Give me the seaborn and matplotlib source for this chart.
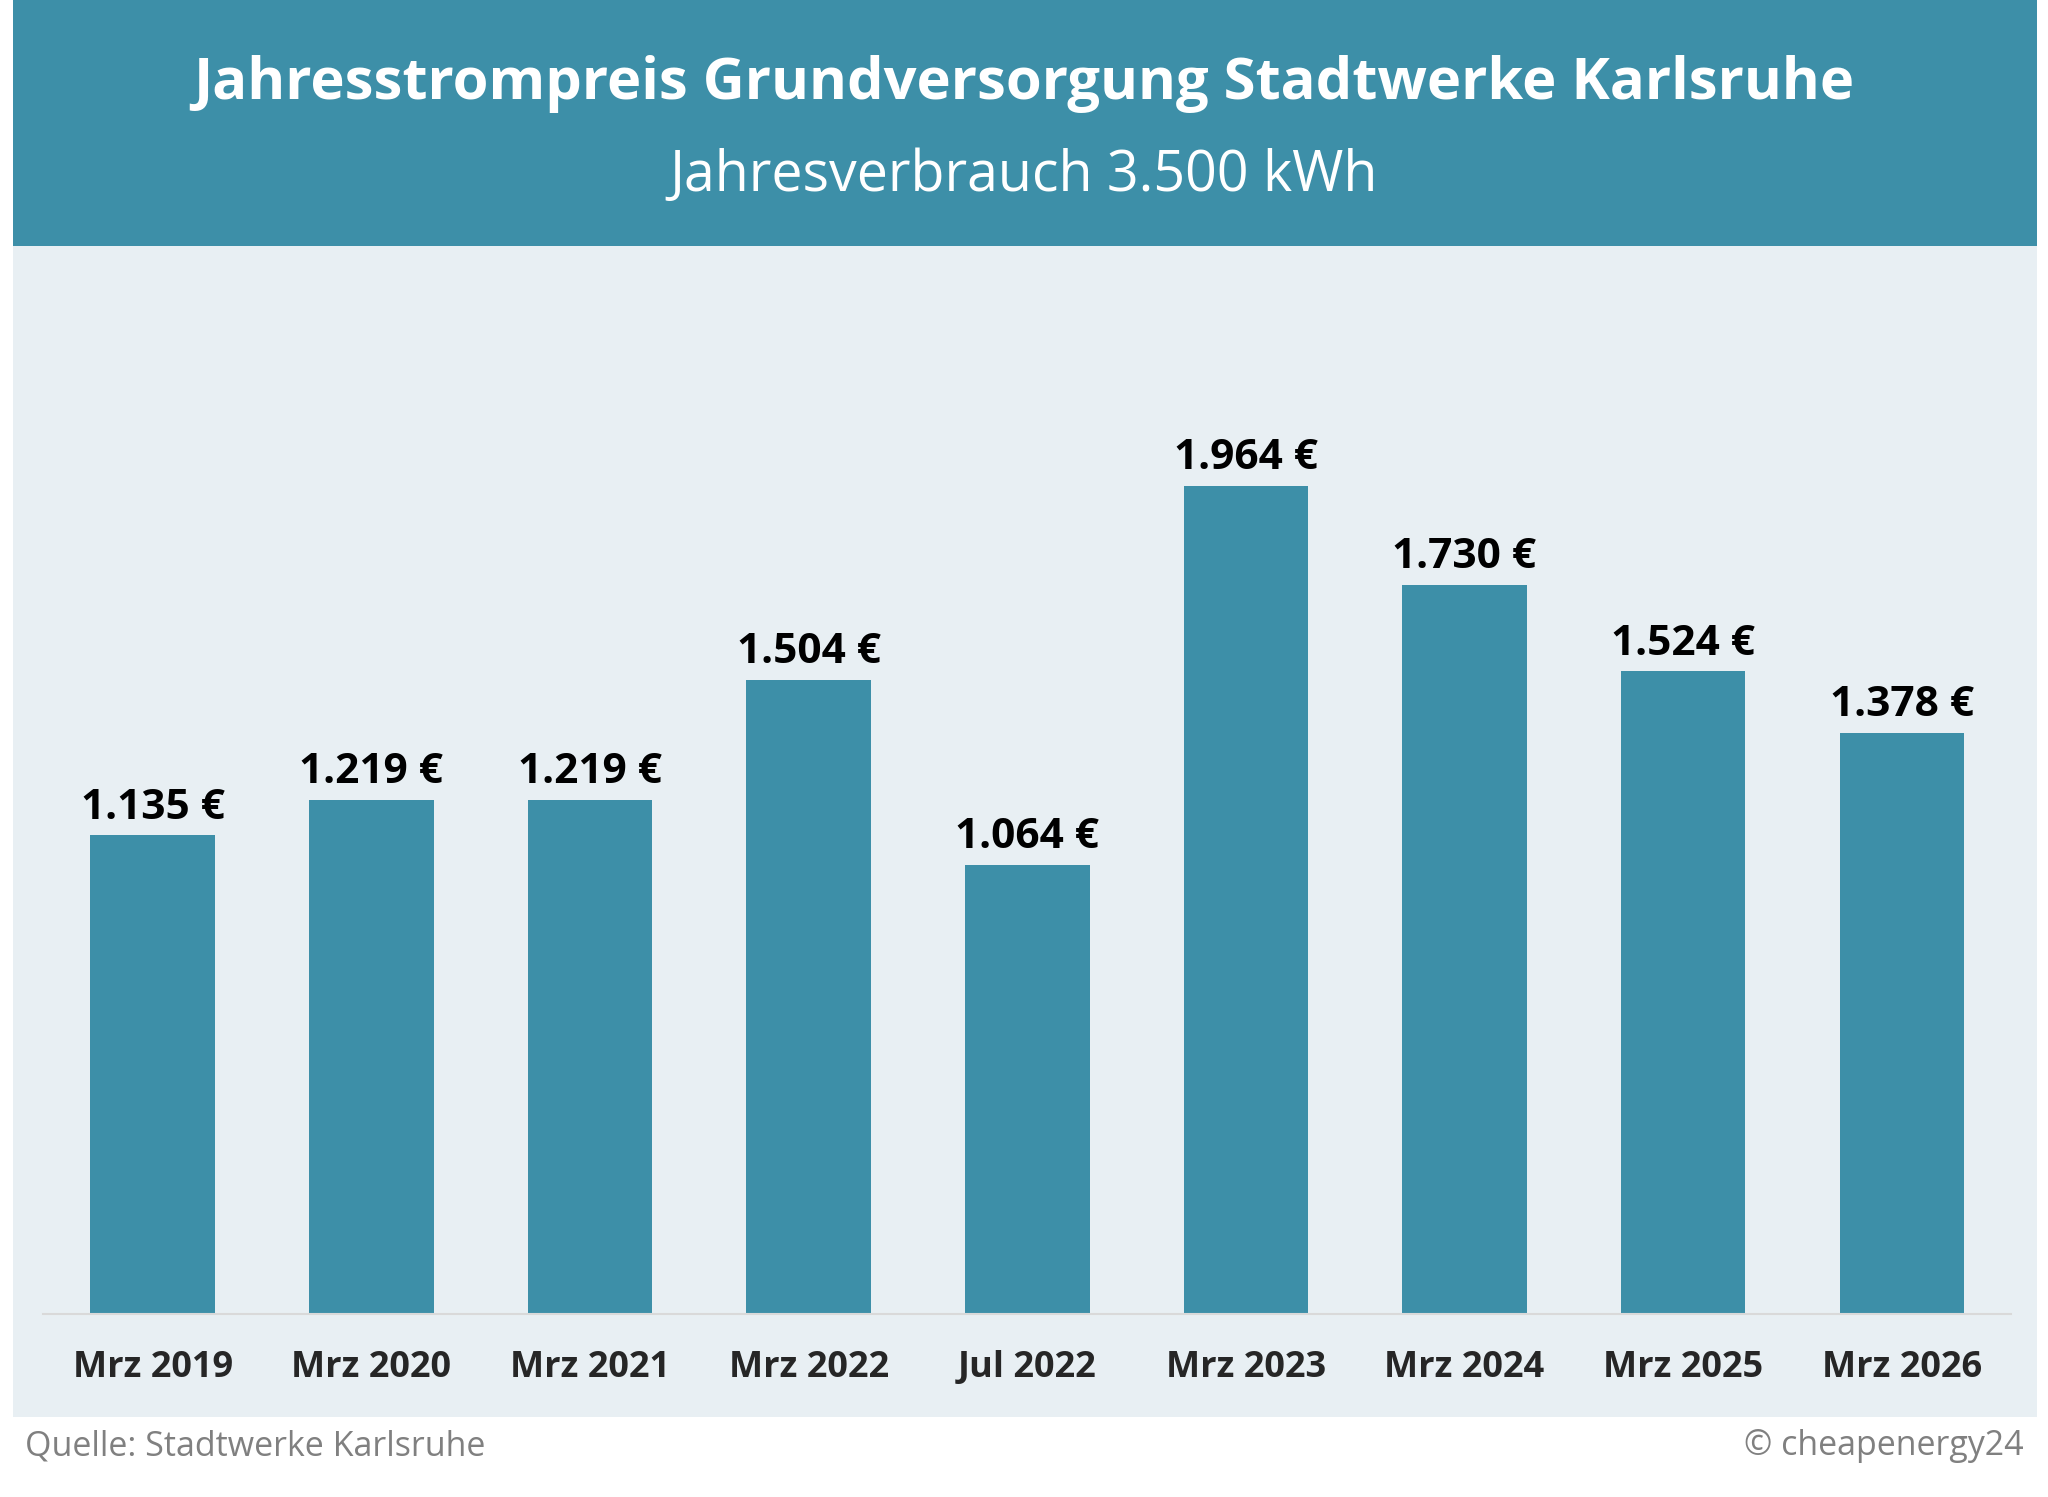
import pandas as pd
import matplotlib.pyplot as plt
import seaborn as sns
from matplotlib.patches import Rectangle

# =====================================
# DATA
# =====================================
periods = ["Mrz 2019", "Mrz 2020", "Mrz 2021", "Mrz 2022", "Jul 2022",
           "Mrz 2023", "Mrz 2024", "Mrz 2025", "Mrz 2026"]
prices = [1135, 1219, 1219, 1504, 1064, 1964, 1730, 1524, 1378]

title = "Jahresstrompreis Grundversorgung Stadtwerke Karlsruhe"
subtitle = "Jahresverbrauch 3.500 kWh"
source = "Quelle: Stadtwerke Karlsruhe"
credit = "© cheapenergy24"

BAR_COLOR = "#3D8FA8"
PANEL_COLOR = "#E8EFF3"

df = pd.DataFrame({"period": periods, "price": prices})

sns.set_theme(style="white")
plt.rcParams["font.family"] = ["Open Sans", "DejaVu Sans"]

fig = plt.figure(figsize=(20.48, 14.97), dpi=100)

# header band and light panel (behind the axes)
fig.patches.append(Rectangle((0.0064, 0.836), 0.9882, 0.164, transform=fig.transFigure,
                             facecolor=BAR_COLOR, edgecolor="none", zorder=-5))
fig.patches.append(Rectangle((0.0064, 0.0534), 0.9882, 0.7826, transform=fig.transFigure,
                             facecolor=PANEL_COLOR, edgecolor="none", zorder=-5))

fig.text(0.5, 0.944, title, ha="center", va="center", color="white",
         fontsize=41.7, fontweight="bold")
fig.text(0.5, 0.882, subtitle, ha="center", va="center", color="white",
         fontsize=40)

ax = fig.add_axes([0.0212, 0.1222, 0.9608, 0.676])
ax.set_facecolor("none")
ax.set_zorder(2)

sns.barplot(data=df, x="period", y="price", color=BAR_COLOR, width=0.57,
            saturation=1, linewidth=0, ax=ax)

labels = [f"{v:,}".replace(",", ".") + " €" for v in prices]
ax.bar_label(ax.containers[0], labels=labels, padding=5, fontsize=30.5,
             fontweight="bold", color="black")

ax.set_xlim(-0.5, len(periods) - 0.5)
ax.set_ylim(0, 2400)
ax.set_xlabel("")
ax.set_ylabel("")
ax.set_yticks([])
ax.tick_params(axis="x", length=0, pad=26, labelsize=26)
for lbl in ax.get_xticklabels():
    lbl.set_fontweight("bold")
for side in ["top", "left", "right"]:
    ax.spines[side].set_visible(False)
ax.spines["bottom"].set_color("#D9D9D9")
ax.spines["bottom"].set_linewidth(1.5)

fig.text(0.012, 0.034, source, ha="left", va="center", color="#808080", fontsize=24.5)
fig.text(0.988, 0.034, credit, ha="right", va="center", color="#808080", fontsize=24.5)

fig.savefig("out.png", dpi=100)
